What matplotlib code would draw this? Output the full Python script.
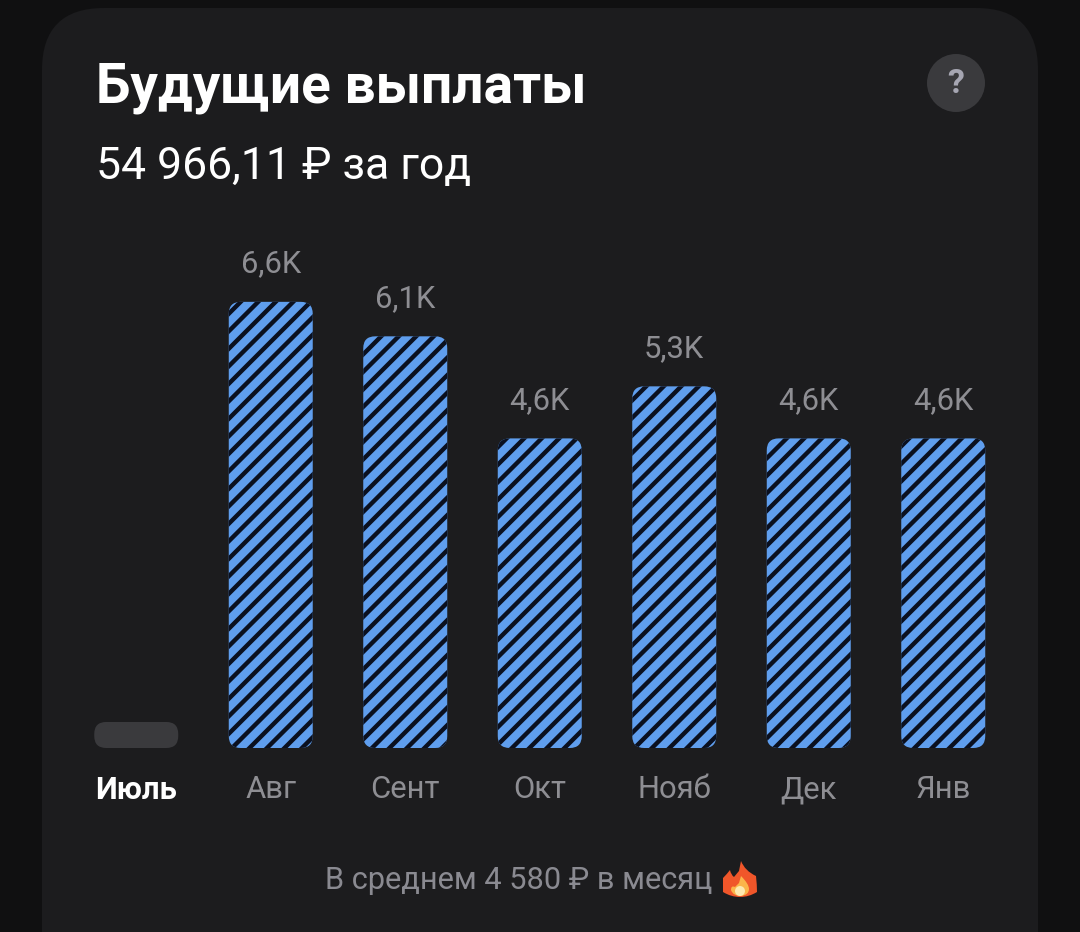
import matplotlib
matplotlib.use('Agg')
import matplotlib.pyplot as plt
from matplotlib.patches import FancyBboxPatch, Circle, PathPatch
from matplotlib.path import Path

months = ['Июль', 'Авг', 'Сент', 'Окт', 'Нояб', 'Дек', 'Янв']
values = [0.385, 6.6, 6.09, 4.58, 5.35, 4.58, 4.58]
value_labels = ['', '6,6K', '6,1K', '4,6K', '5,3K', '4,6K', '4,6K']

DPI = 105
W, H = 1080, 932
PX = 72 / DPI  # one pixel in points

plt.rcParams['font.family'] = ['Roboto', 'DejaVu Sans']
plt.rcParams['hatch.linewidth'] = 4.4 * PX

fig = plt.figure(figsize=(W / DPI, H / DPI), dpi=DPI, facecolor='#101011')

# card and header, in pixel coordinates
bg = fig.add_axes([0, 0, 1, 1])
bg.set_xlim(0, W)
bg.set_ylim(H, 0)
bg.axis('off')
bg.add_patch(FancyBboxPatch((42, 8), 996, 1000, boxstyle='round,pad=0,rounding_size=62',
                            fc='#1c1c1e', ec='none'))
bg.add_patch(Circle((956, 83), 29, fc='#3a3a3d', ec='none'))
bg.text(956, 84, '?', color='#a6a6b2', fontsize=34 * PX, fontweight='bold', ha='center', va='center')
bg.text(96, 102, 'Будущие выплаты', color='white', fontsize=55 * PX, fontweight='bold', ha='left', va='baseline')
bg.text(96, 179, '54 966,11 ₽ за год', color='white', fontsize=44.5 * PX, ha='left', va='baseline')
bg.text(325, 889, 'В среднем 4 580 ₽ в месяц', color='#8a8a91', fontsize=30.8 * PX, ha='left', va='baseline')

# flame emoji
flame = [(741, 861), (745, 871), (756, 876), (757, 885), (757, 892), (749, 897), (740, 897),
         (731, 897), (723, 892), (723, 884), (723, 878), (727, 874), (730, 870), (731, 875), (734, 877),
         (734, 877), (739, 871), (741, 861)]
codes = [Path.MOVETO] + [Path.CURVE3] * 16 + [Path.LINETO]
bg.add_patch(PathPatch(Path(flame, codes), fc='#f0562a', ec='none'))
inner = [(741, 876), (749, 884), (749, 889), (749, 895), (741, 896), (733, 896), (731, 890), (731, 885),
         (735, 887), (739, 883), (741, 876)]
codes2 = [Path.MOVETO] + [Path.CURVE3] * 8 + [Path.LINETO, Path.LINETO]
bg.add_patch(PathPatch(Path(inner, codes2), fc='#fbb54a', ec='none'))
bg.add_patch(Circle((740, 891), 5, fc='#fde9b0', ec='none'))

# chart: 134.5 px per month, 67.6 px per thousand
ax = fig.add_axes([69 / W, (H - 748) / H, 941.5 / W, 518 / H])
ax.patch.set_alpha(0)
ax.set_xlim(-0.5, 6.5)
ax.set_ylim(0, 518 / 67.6)
bars = ax.bar(range(len(months)), values, width=84 / 134.5, color='none')
for i, b in enumerate(bars):
    if i == 0:
        kw = dict(fc='#3a3a3d', ec='none')
    else:
        kw = dict(fc='#5f9eee', ec='#0a1020', hatch='//', linewidth=0)
    ax.add_patch(FancyBboxPatch((b.get_x(), 0), b.get_width(), b.get_height(),
                                boxstyle=f'round,pad=0,rounding_size={12 / 134.5}',
                                mutation_aspect=134.5 / 67.6, **kw))
    if value_labels[i]:
        ax.annotate(value_labels[i], (i, values[i]), xytext=(0, 29.5 * PX), textcoords='offset points',
                    color='#8e8e93', fontsize=31 * PX, ha='center', va='baseline')

ax.set_xticks(range(len(months)))
ax.set_xticklabels(months, fontsize=31 * PX, color='#8e8e93')
ax.tick_params(axis='x', length=0, pad=27 * PX)
ax.get_xticklabels()[0].set_color('white')
ax.get_xticklabels()[0].set_fontweight('bold')
ax.set_yticks([])
for s in ax.spines.values():
    s.set_visible(False)

fig.savefig('out.png', dpi=DPI, facecolor=fig.get_facecolor())
